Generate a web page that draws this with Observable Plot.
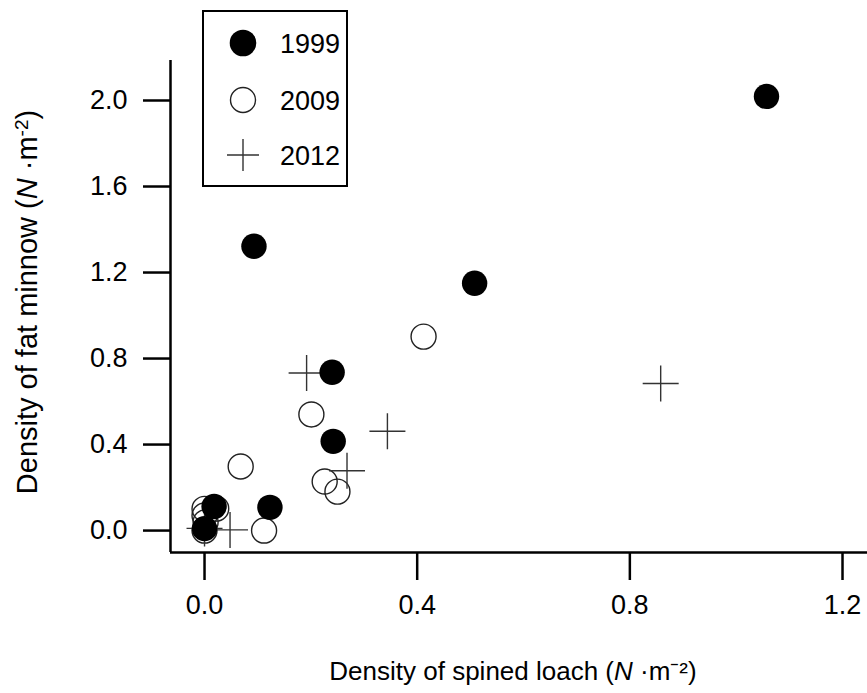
<!DOCTYPE html>
<html><head><meta charset="utf-8">
<script src="https://cdn.jsdelivr.net/npm/d3@7"></script>
<script src="https://cdn.jsdelivr.net/npm/@observablehq/plot@0.6"></script>
<style>
body{margin:0;background:#fff;}
#chart svg{display:block;}
</style></head><body><div id="chart"></div>
<script>
const seriesNames = ["1999", "2009", "2012"];
const x1999 = [1.057, 0.093, 0.508, 0.240, 0.242, 0.123, 0.018, 0.000];
const y1999 = [2.019, 1.322, 1.150, 0.736, 0.415, 0.108, 0.112, 0.009];
const x2009 = [0.412, 0.201, 0.068, 0.226, 0.250, 0.112, 0.000, 0.022, 0.000, 0.002, 0.000];
const y2009 = [0.902, 0.540, 0.298, 0.228, 0.181, 0.000, 0.101, 0.102, 0.070, 0.039, 0.000];
const x2012 = [0.858, 0.192, 0.344, 0.268, 0.048, 0.000];
const y2012 = [0.684, 0.733, 0.462, 0.278, 0.003, 0.010];
const xTicks = [0, 0.4, 0.8, 1.2];
const yTicks = [0, 0.4, 0.8, 1.2, 1.6, 2.0];

const toRows = (xs, ys) => xs.map((x, i) => ({x, y: ys[i]}));
const d1999 = toRows(x1999, y1999);
const d2009 = toRows(x2009, y2009);
const d2012 = toRows(x2012, y2012);

const plusSymbol = {
  draw(ctx, size) {
    const r = Math.sqrt(size / Math.PI);
    ctx.moveTo(-r, 0); ctx.lineTo(r, 0);
    ctx.moveTo(0, -r); ctx.lineTo(0, r);
  }
};

const xDomain = [-0.064, 1.247];
const yDomain = [-0.102, 2.186];
const fmt = d3.format(".1f");
const font = "'Liberation Sans', Arial, sans-serif";

const chart = Plot.plot({
  width: 867,
  height: 693,
  marginLeft: 170,
  marginRight: 0,
  marginTop: 60,
  marginBottom: 141,
  style: {fontFamily: font, fontSize: "27px", color: "#000", background: "#fff"},
  x: {domain: xDomain},
  y: {domain: yDomain},
  marks: [
    Plot.axisX({ticks: xTicks, tickFormat: fmt, tickSize: 28, tickPadding: 14, strokeWidth: 2.5, label: null, fontSize: 27}),
    Plot.axisY({ticks: yTicks, tickFormat: fmt, tickSize: 27, tickPadding: 16, strokeWidth: 2.5, label: null, fontSize: 27}),
    Plot.ruleY([yDomain[0]], {stroke: "#000", strokeWidth: 2.5}),
    Plot.ruleX([xDomain[0]], {stroke: "#000", strokeWidth: 2.5}),
    Plot.dot(d2009, {x: "x", y: "y", r: 12.5, fill: "none", stroke: "#222", strokeWidth: 1.4, symbol: "circle"}),
    Plot.dot(d2012, {x: "x", y: "y", r: 18, fill: "none", stroke: "#333", strokeWidth: 1.4, symbol: plusSymbol}),
    Plot.dot(d1999, {x: "x", y: "y", r: 12.7, fill: "#000", stroke: "none", symbol: "circle"})
  ]
});
document.getElementById("chart").appendChild(chart);

const svg = d3.select(chart);

// Y title
const yt = svg.append("text")
  .attr("transform", "translate(37,302) rotate(-90)")
  .attr("text-anchor", "middle")
  .attr("font-family", font).attr("font-size", 29).attr("fill", "#000");
yt.append("tspan").text("Density of fat minnow (");
yt.append("tspan").attr("font-style", "italic").text("N");
yt.append("tspan").text(" \u00B7m");
yt.append("tspan").attr("dy", "-0.45em").attr("font-size", 19).text("-2");
yt.append("tspan").attr("dy", "0.3em").text(")");

// X title
const xt = svg.append("text")
  .attr("x", 513).attr("y", 680)
  .attr("text-anchor", "middle")
  .attr("font-family", font).attr("font-size", 26).attr("fill", "#000");
xt.append("tspan").text("Density of spined loach (");
xt.append("tspan").attr("font-style", "italic").text("N");
xt.append("tspan").text(" \u00B7m\u207B\u00B2)");

// Legend
const lg = svg.append("g");
lg.append("rect").attr("x", 203).attr("y", 11).attr("width", 144).attr("height", 175)
  .attr("fill", "#fff").attr("stroke", "#000").attr("stroke-width", 2);
const rowsY = [43, 100, 155];
lg.append("circle").attr("cx", 243).attr("cy", rowsY[0]).attr("r", 13.3).attr("fill", "#000");
lg.append("circle").attr("cx", 243).attr("cy", rowsY[1]).attr("r", 12.5).attr("fill", "none").attr("stroke", "#222").attr("stroke-width", 1.4);
lg.append("path").attr("d", d3.symbol(plusSymbol, Math.PI * 16 * 16)()).attr("transform", `translate(243,${rowsY[2]})`)
  .attr("fill", "none").attr("stroke", "#333").attr("stroke-width", 1.4);
seriesNames.forEach((s, i) => {
  lg.append("text").attr("x", 280).attr("y", rowsY[i]).attr("dy", "0.36em")
    .attr("text-anchor", "start")
    .attr("font-family", font).attr("font-size", 27).attr("fill", "#000").text(s);
});
</script>
</body></html>
